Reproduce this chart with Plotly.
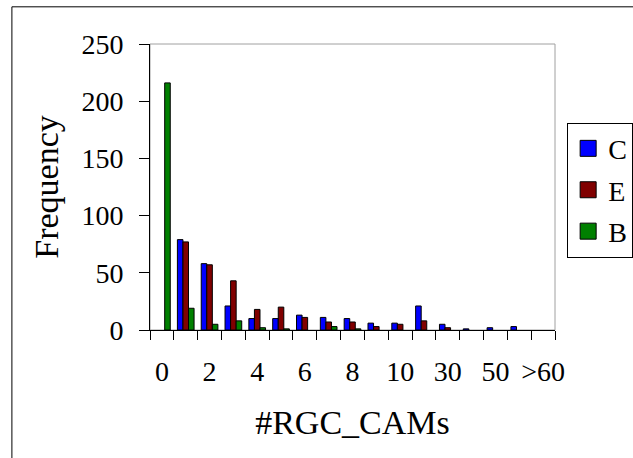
import plotly.graph_objects as go

# bins of #RGC_CAMs
categories = ["0", "1", "2", "3", "4", "5", "6", "7", "8", "9", "10",
              "20", "30", "40", "50", "60", ">60"]

c_vals = [0, 79, 58, 21, 10, 10, 13, 11, 10, 6, 6, 21, 5, 1, 2, 3, 0]
e_vals = [0, 77, 57, 43, 18, 20, 11, 7, 7, 3, 5, 8, 2, 0, 0, 0, 0]
b_vals = [216, 19, 5, 8, 2, 1, 0, 3, 1, 0, 0, 0, 0, 0, 0, 0, 0]

y_ticks = [0, 50, 100, 150, 200, 250]

# only every other bin gets a label
tick_text = [c if i % 2 == 0 else "" for i, c in enumerate(categories)]

FONT = "Liberation Serif, Times New Roman, serif"

fig = go.Figure()
for name, vals, color in [("C", c_vals, "#0000FF"),
                          ("E", e_vals, "#800000"),
                          ("B", b_vals, "#008000")]:
    # empty bins draw nothing, like the original
    fig.add_trace(go.Bar(
        x=categories, y=[v if v else None for v in vals], name=name,
        legendgroup=name, showlegend=False,
        marker=dict(color=color, line=dict(color="black", width=1)),
    ))
    # bigger legend key
    fig.add_trace(go.Scatter(
        x=[None], y=[None], mode="markers", name=name, legendgroup=name,
        marker=dict(symbol="square", size=18, color=color,
                    line=dict(color="black", width=1)),
    ))

# gray frame around plot area (top/right visible)
fig.add_shape(type="rect", xref="paper", yref="paper", x0=0, y0=0, x1=1, y1=1,
              line=dict(color="#A0A0A0", width=1), layer="below")
# outer chart border
fig.add_shape(type="rect", xref="paper", yref="paper",
              x0=-0.341, y0=-0.48, x1=1.25, y1=1.13,
              line=dict(color="black", width=1), layer="below")

fig.update_layout(
    width=633, height=458,
    margin=dict(l=150, r=78, t=44, b=128, autoexpand=False),
    paper_bgcolor="white", plot_bgcolor="white",
    font=dict(family=FONT, size=28, color="black"),
    barmode="group", bargap=0.3, bargroupgap=0,
    showlegend=True,
    legend=dict(
        x=1.03, y=0.725, xanchor="left", yanchor="top",
        bordercolor="black", borderwidth=1, bgcolor="white",
        font=dict(family=FONT, size=28),
        tracegroupgap=2, itemwidth=30,
    ),
    xaxis=dict(
        type="category",
        tickmode="array", tickvals=categories, ticktext=tick_text,
        tickson="boundaries", ticks="outside", ticklen=9,
        tickcolor="black", showline=True, linecolor="black", linewidth=1,
        showgrid=False, tickangle=0, ticklabelstandoff=16,
        title=dict(text="#RGC_CAMs", standoff=24),
    ),
    yaxis=dict(
        range=[0, 250], tickvals=y_ticks, ticks="outside", ticklen=10,
        tickcolor="black", showline=True, linecolor="black", linewidth=1,
        showgrid=False, zeroline=False, ticklabelstandoff=10,
        title=dict(text="Frequency", standoff=12),
    ),
)

# drop the default page margin so the figure sits at the window corner
fig.write_html("out.html", config={"displayModeBar": False},
               post_script="document.body.style.margin='0';")
